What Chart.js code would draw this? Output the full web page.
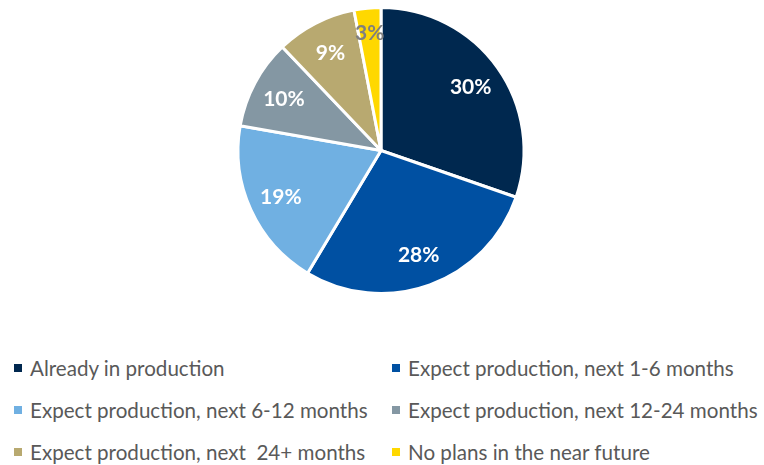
<!DOCTYPE html>
<html>
<head>
<meta charset="utf-8">
<script src="https://cdn.jsdelivr.net/npm/chart.js@4.4.1/dist/chart.umd.min.js"></script>
<style>
  body { margin: 0; background: #fff; }
  #wrap { position: relative; width: 764px; height: 465px; }
  #pieBox { position: absolute; left: 0; top: 0; width: 764px; height: 301px; }
  #legend { position: absolute; left: 0; top: 354px; width: 764px; }
  .item { position: absolute; font-family: Lato, sans-serif; font-size: 20.6px; color: #595959; white-space: pre; line-height: 28px; }
  .item span { position: absolute; left: -16px; top: 10px; width: 8px; height: 8px; }
</style>
</head>
<body>
<div id="wrap">
  <div id="pieBox"><canvas id="pie"></canvas></div>
  <div id="legend"></div>
</div>
<script>
var labels = ['Already in production', 'Expect production, next 1-6 months', 'Expect production, next 6-12 months',
  'Expect production, next 12-24 months', 'Expect production, next  24+ months', 'No plans in the near future'];
var shares = [30, 28, 19, 10, 9, 3];
var colors = ['#00284f', '#0050a2', '#70b0e2', '#8497a3', '#b8a970', '#ffd800'];
var labelColors = ['#fff', '#fff', '#fff', '#fff', '#fff', '#7f7f7f'];

// percentage text inside each slice
var sliceLabels = {
  id: 'sliceLabels',
  afterDatasetsDraw: function(chart) {
    var ctx = chart.ctx;
    var meta = chart.getDatasetMeta(0);
    ctx.save();
    ctx.font = 'bold 21px Lato, sans-serif';
    ctx.textAlign = 'center';
    ctx.textBaseline = 'middle';
    meta.data.forEach(function(arc, i) {
      var mid = (arc.startAngle + arc.endAngle) / 2;
      var r = arc.outerRadius * (i == 5 ? 0.83 : 0.77);
      ctx.fillStyle = labelColors[i];
      ctx.fillText(shares[i] + '%', arc.x + Math.cos(mid) * r, arc.y + Math.sin(mid) * r + 1);
    });
    ctx.restore();
  }
};

var myPieChart = new Chart(document.getElementById('pie'), {
  type: 'pie',
  data: {
    labels: labels,
    datasets: [{
      data: shares,
      backgroundColor: colors,
      borderColor: '#fff',
      borderWidth: 3
    }]
  },
  options: {
    responsive: true,
    maintainAspectRatio: false,
    animation: false,
    layout: { padding: { top: 6, bottom: 6, left: 0, right: 2 } },
    plugins: { legend: { display: false }, tooltip: { enabled: false } }
  },
  plugins: [sliceLabels]
});

// two-column legend below the pie
var legend = document.getElementById('legend');
var colX = [30, 408];
labels.forEach(function(name, i) {
  var d = document.createElement('div');
  d.className = 'item';
  d.style.left = colX[i % 2] + 'px';
  d.style.top = (Math.floor(i / 2) * 42) + 'px';
  d.textContent = name;
  var sq = document.createElement('span');
  sq.style.background = colors[i];
  d.appendChild(sq);
  legend.appendChild(d);
});
</script>
</body>
</html>
